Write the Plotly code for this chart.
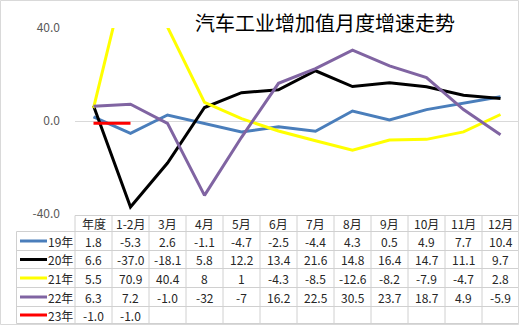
import plotly.graph_objects as go

categories = ["年度", "1-2月", "3月", "4月", "5月", "6月", "7月", "8月", "9月", "10月", "11月", "12月"]
series_names = ["19年", "20年", "21年", "22年", "23年"]
s19 = ["1.8", "-5.3", "2.6", "-1.1", "-4.7", "-2.5", "-4.4", "4.3", "0.5", "4.9", "7.7", "10.4"]
s20 = ["6.6", "-37.0", "-18.1", "5.8", "12.2", "13.4", "21.6", "14.8", "16.4", "14.7", "11.1", "9.7"]
s21 = ["5.5", "70.9", "40.4", "8", "1", "-4.3", "-8.5", "-12.6", "-8.2", "-7.9", "-4.7", "2.8"]
s22 = ["6.3", "7.2", "-1.0", "-32", "-7", "16.2", "22.5", "30.5", "23.7", "18.7", "4.9", "-5.9"]
s23 = ["-1.0", "-1.0"]
colors = ["#4a7ebb", "#000000", "#ffff00", "#8064a2", "#ff0000"]
yticks = [-40, 0, 40]
yticklabels = ["-40.0", "0.0", "40.0"]
title = "汽车工业增加值月度增速走势"

W, H = 519, 325
L, R, T, B = 75, 0, 28, 111
PW, PH = W - L - R, H - T - B


def px(x):
    return (x - L) / PW


def py(y):
    return (T + PH - y) / PH


FONT = "Noto Sans CJK SC"
fig = go.Figure()
all_series = [s19, s20, s21, s22, s23]
for name, vals, col in zip(series_names, all_series, colors):
    fig.add_trace(go.Scatter(
        x=categories[:len(vals)], y=[float(v) for v in vals], mode="lines",
        name=name, line=dict(color=col, width=3), showlegend=False))

grid = "#d9d9d9"
tline = "#d0d0d0"
shapes = []
annotations = []
n = len(categories)


def cx(i):
    # paper x of column edge i (axis range is [-0.5, n-0.5])
    return i / n


row_edges = [215.5, 231.5, 250.5, 268.5, 287.5, 306.5, 323.5]
shapes.append(dict(type="line", xref="paper", yref="paper", x0=0, x1=1,
                   y0=py(row_edges[0]), y1=py(row_edges[0]), line=dict(color=tline, width=1)))
for e in row_edges[1:]:
    shapes.append(dict(type="line", xref="paper", yref="paper", x0=px(16.5), x1=1,
                       y0=py(e), y1=py(e), line=dict(color=tline, width=1)))
shapes.append(dict(type="line", xref="paper", yref="paper", x0=px(16.5), x1=px(16.5),
                   y0=py(row_edges[1]), y1=py(row_edges[-1]), line=dict(color=tline, width=1)))
for i in range(n):
    shapes.append(dict(type="line", xref="paper", yref="paper", x0=cx(i), x1=cx(i),
                       y0=py(row_edges[0]), y1=py(row_edges[-1]), line=dict(color=tline, width=1)))


def ann(x, y, text, xref="paper", size=12, color="#262626"):
    annotations.append(dict(x=x, y=y, xref=xref, yref="paper", text=text, showarrow=False,
                            xanchor="center", yanchor="middle",
                            font=dict(size=size, color=color, family=FONT)))


hc = (row_edges[0] + row_edges[1]) / 2
for c in categories:
    ann(c, py(hc), c, xref="x")
for r, (name, vals, col) in enumerate(zip(series_names, all_series, colors)):
    cy = (row_edges[r + 1] + row_edges[r + 2]) / 2
    shapes.append(dict(type="line", xref="paper", yref="paper", x0=px(20), x1=px(47),
                       y0=py(cy), y1=py(cy), line=dict(color=col, width=3)))
    ann(px(60), py(cy), name)
    for c, v in zip(categories, vals):
        ann(c, py(cy), v, xref="x")
shapes.append(dict(type="rect", xref="paper", yref="paper", x0=px(0.5), x1=px(518.5),
                   y0=py(324.5), y1=py(0.5), line=dict(color=grid, width=1)))
ann(px(325), py(22), title, size=20, color="#000000")

fig.update_layout(
    width=W, height=H, margin=dict(l=L, r=R, t=T, b=B),
    paper_bgcolor="white", plot_bgcolor="white",
    xaxis=dict(showticklabels=False, showgrid=False, zeroline=False, showline=False,
               range=[-0.5, n - 0.5], fixedrange=True),
    yaxis=dict(range=[-40, 40], tickvals=yticks, ticktext=yticklabels, showgrid=True,
               gridcolor=grid, gridwidth=1, zeroline=False, showline=False,
               tickfont=dict(size=12, color="#595959", family=FONT), ticklabelstandoff=14),
    shapes=shapes, annotations=annotations, showlegend=False,
)
fig.write_html("out.html")
